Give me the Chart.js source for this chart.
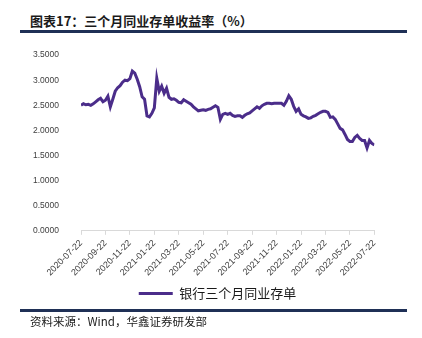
<!DOCTYPE html>
<html>
<head>
<meta charset="utf-8">
<script src="https://cdn.jsdelivr.net/npm/chart.js@4"></script>
<style>
  body { margin: 0; background: #fff; width: 422px; height: 338px; position: relative; overflow: hidden; }
  #title { position: absolute; left: 30px; top: 11px; font: bold 13px "Noto Sans CJK SC", sans-serif; color: #1a1a1a; }
  .rule { position: absolute; left: 20px; width: 387px; height: 3px; background: #1f3056; }
  #source { position: absolute; left: 30px; top: 313px; font: 11.5px "Noto Sans CJK SC", sans-serif; color: #1a1a1a; }
  #wrap { position: absolute; left: 20px; top: 36px; width: 365px; height: 274px; }
</style>
</head>
<body>
<div id="title">图表17：三个月同业存单收益率（%）</div>
<div class="rule" style="top:30px"></div>
<div id="wrap"><canvas id="rateChart"></canvas></div>
<div class="rule" style="top:309px"></div>
<div id="source">资料来源：Wind，华鑫证券研发部</div>
<script>
// x axis labels, one every two months
const tickLabels = ['2020-07-22','2020-09-22','2020-11-22','2021-01-22','2021-03-22','2021-05-22',
  '2021-07-22','2021-09-22','2021-11-22','2022-01-22','2022-03-22','2022-05-22','2022-07-22'];
const seriesName = '银行三个月同业存单';
// 10 readings per two-month step
const rates = [
  2.50,2.53,2.51,2.52,2.50,2.53,2.57,2.61,2.64,2.57,
  2.60,2.68,2.47,2.62,2.78,2.85,2.89,2.96,3.00,2.99,
  3.03,3.18,3.14,3.02,2.87,2.67,2.62,2.29,2.27,2.34,
  2.45,3.04,2.78,2.88,2.74,2.84,2.66,2.62,2.63,2.60,
  2.56,2.55,2.61,2.58,2.55,2.52,2.47,2.43,2.39,2.40,
  2.41,2.40,2.42,2.43,2.46,2.49,2.46,2.22,2.32,2.34,
  2.32,2.34,2.30,2.28,2.29,2.29,2.26,2.30,2.33,2.35,
  2.39,2.43,2.47,2.44,2.49,2.52,2.54,2.54,2.53,2.54,
  2.54,2.54,2.54,2.50,2.58,2.69,2.62,2.48,2.38,2.43,
  2.32,2.29,2.27,2.24,2.25,2.28,2.30,2.33,2.36,2.38,
  2.38,2.36,2.26,2.27,2.22,2.13,2.04,2.01,1.92,1.82,
  1.78,1.78,1.86,1.90,1.84,1.80,1.80,1.65,1.80,1.74,
  1.71
];
const perStep = 10;

// push the legend a little to the right, like the original
const legendShift = {
    id: 'legendShift',
    afterLayout(chart) {
        chart.legend.left += 19;
        chart.legend.right += 19;
    }
};

var ctx = document.getElementById('rateChart').getContext('2d');
var rateChart = new Chart(ctx, {
    type: 'line',
    data: {
        datasets: [{
            label: seriesName,
            data: rates.map((v, i) => ({x: i / perStep, y: v})),
            borderColor: '#4b2d8a',
            backgroundColor: '#4b2d8a',
            borderWidth: 3,
            pointRadius: 0,
            tension: 0
        }]
    },
    plugins: [legendShift],
    options: {
        animation: false,
        responsive: true,
        maintainAspectRatio: false,
        layout: { padding: { top: 3, right: 8, left: 0, bottom: 0 } },
        plugins: {
            tooltip: { enabled: false },
            legend: {
                position: 'bottom',
                labels: {
                    usePointStyle: true,
                    pointStyle: 'line',
                    pointStyleWidth: 34,
                    color: '#1a1a1a',
                    font: { size: 13, family: '"Noto Sans CJK SC", sans-serif' },
                    padding: 6
                }
            }
        },
        scales: {
            x: {
                type: 'linear',
                min: 0,
                max: tickLabels.length - 1,
                afterBuildTicks: (s) => { s.ticks = tickLabels.map((_, i) => ({value: i})); },
                border: { display: true, color: '#d9d9d9' },
                grid: { drawOnChartArea: false, drawTicks: true, tickLength: 4, color: '#d9d9d9' },
                ticks: {
                    autoSkip: false,
                    minRotation: 45,
                    maxRotation: 45,
                    color: '#404040',
                    font: { size: 9, family: '"Liberation Sans", sans-serif' },
                    callback: (v) => tickLabels[v]
                }
            },
            y: {
                min: 0,
                max: 3.5,
                afterFit: (s) => { s.width = 61; },
                border: { display: false },
                grid: { display: false },
                ticks: {
                    stepSize: 0.5,
                    padding: 14,
                    color: '#404040',
                    font: { size: 8.5, family: '"Liberation Sans", sans-serif' },
                    callback: (v) => v.toFixed(4)
                }
            }
        }
    }
});
</script>
</body>
</html>
